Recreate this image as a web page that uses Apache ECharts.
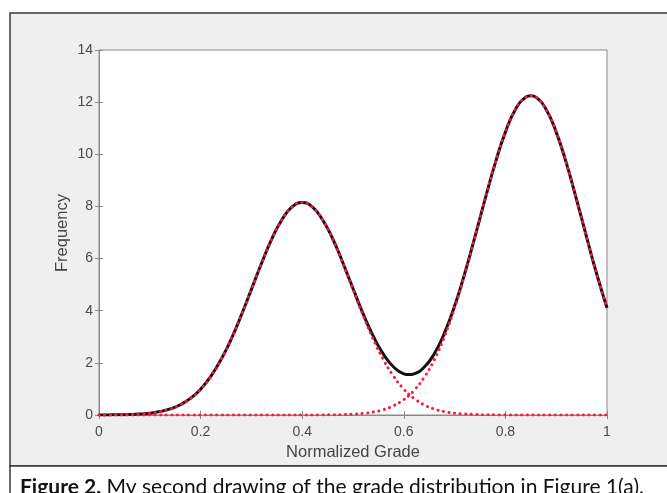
<!DOCTYPE html>
<html><head><meta charset="utf-8">
<script src="https://cdn.jsdelivr.net/npm/echarts@6/dist/echarts.min.js"></script>
<style>html,body{margin:0;padding:0;background:#fff}#c{width:667px;height:493px}</style>
</head><body><div id="c"></div>
<script>
const xs = [0,0.02,0.04,0.06,0.08,0.10,0.12,0.14,0.16,0.18,0.20,0.22,0.24,0.26,0.28,0.30,0.32,0.34,0.36,0.38,0.40,0.42,0.44,0.46,0.48,0.50,0.52,0.54,0.56,0.58,0.60,0.61,0.62,0.64,0.66,0.68,0.70,0.72,0.74,0.76,0.78,0.80,0.82,0.84,0.85,0.86,0.88,0.90,0.92,0.94,0.96,0.98,1.00];
const comp1 = [0.002,0.004,0.009,0.019,0.037,0.071,0.132,0.232,0.393,0.638,0.99,1.48,2.12,2.90,3.82,4.82,5.82,6.75,7.49,7.98,8.15,7.98,7.49,6.75,5.82,4.82,3.82,2.90,2.12,1.48,0.99,0.80,0.64,0.39,0.23,0.13,0.07,0.04,0.02,0.01,0.004,0,0,0,0,0,0,0,0,0,0,0,0];
const comp2 = [0,0,0,0,0,0,0,0,0,0,0,0,0,0,0,0,0,0,0,0,0,0,0.004,0.008,0.016,0.032,0.062,0.115,0.207,0.356,0.589,0.75,0.94,1.44,2.12,3.01,4.11,5.39,6.81,8.27,9.66,10.85,11.73,12.19,12.25,12.19,11.73,10.85,9.66,8.27,6.81,5.39,4.11];
const total = [0.002,0.004,0.009,0.019,0.037,0.071,0.132,0.232,0.393,0.638,0.99,1.48,2.12,2.90,3.82,4.82,5.82,6.75,7.49,7.98,8.15,7.98,7.49,6.76,5.84,4.85,3.88,3.02,2.33,1.84,1.58,1.55,1.58,1.83,2.35,3.14,4.18,5.43,6.83,8.28,9.66,10.85,11.73,12.19,12.25,12.19,11.73,10.85,9.66,8.27,6.81,5.39,4.11];
const yTicks = [0,2,4,6,8,10,12,14];
const xTitle = 'Normalized Grade';
const yTitle = 'Frequency';
const captionBold = 'Figure 2.';
const captionText = ' My second drawing of the grade distribution in Figure 1(a).';

const pair = arr => xs.map((x,i)=>[x,arr[i]]);
const chart = echarts.init(document.getElementById('c'), null, {renderer:'canvas'});
const lab = {color:'#4a4a4a', fontFamily:'Liberation Sans, Arial, sans-serif', fontSize:14};
const axLine = {show:true, lineStyle:{color:'#8a8a8a', width:1}};
const tick = {show:true, inside:true, length:4, lineStyle:{color:'#8a8a8a'}};
const nameStyle = {color:'#444', fontSize:16.5, fontFamily:'Liberation Sans, Arial, sans-serif'};
chart.setOption({
  animation:false,
  backgroundColor:'#fff',
  graphic:[
    {type:'rect', z:-10, shape:{x:10,y:13,width:670,height:453}, style:{fill:'#efefef', stroke:'#3a3a3a', lineWidth:1.5}},
    {type:'rect', z:-10, shape:{x:10,y:466,width:670,height:40}, style:{fill:'#fff', stroke:'#3a3a3a', lineWidth:1.5}},
    {type:'text', left:20, top:477, style:{rich:{b:{fontWeight:'bold',fontSize:21,fontFamily:'Lato, Open Sans, sans-serif',fill:'#111'},n:{fontSize:21,fontFamily:'Lato, Open Sans, sans-serif',fill:'#111'}}, text:'{b|'+captionBold+'}{n|'+captionText+'}'}},
    {type:'text', x:62, y:233, rotation:Math.PI/2, style:{text:yTitle, fill:'#444', fontSize:16.5, fontFamily:'Liberation Sans, Arial, sans-serif', align:'center', verticalAlign:'middle'}}
  ],
  grid:{left:99, right:60, top:50, bottom:78, show:true, backgroundColor:'#fff', borderColor:'#8a8a8a', borderWidth:1},
  xAxis:[
    {type:'value', min:0, max:1, interval:0.2, position:'bottom', name:xTitle, nameLocation:'middle', nameGap:28,
     nameTextStyle:nameStyle, axisLine:axLine, axisTick:tick, splitLine:{show:false}, axisLabel:Object.assign({margin:10},lab)},
    {type:'value', min:0, max:1, interval:0.2, position:'top', axisLine:axLine, axisTick:tick, splitLine:{show:false}, axisLabel:{show:false}}
  ],
  yAxis:[
    {type:'value', min:yTicks[0], max:yTicks[yTicks.length-1], interval:2, position:'left',
     axisLine:axLine, axisTick:tick, splitLine:{show:false}, axisLabel:Object.assign({margin:6},lab)},
    {type:'value', min:yTicks[0], max:yTicks[yTicks.length-1], interval:2, position:'right', axisLine:axLine, axisTick:tick, splitLine:{show:false}, axisLabel:{show:false}}
  ],
  series:[
    {type:'line', data:pair(total), smooth:0.5, showSymbol:false, lineStyle:{color:'#111', width:3}, z:2},
    {type:'line', data:pair(comp1), smooth:0.5, showSymbol:false, lineStyle:{color:'#ff1744', width:3, type:[0.1,5.5], cap:'round'}, z:3},
    {type:'line', data:pair(comp2), smooth:0.5, showSymbol:false, lineStyle:{color:'#ff1744', width:3, type:[0.1,5.5], cap:'round'}, z:3}
  ]
});
</script></body></html>
